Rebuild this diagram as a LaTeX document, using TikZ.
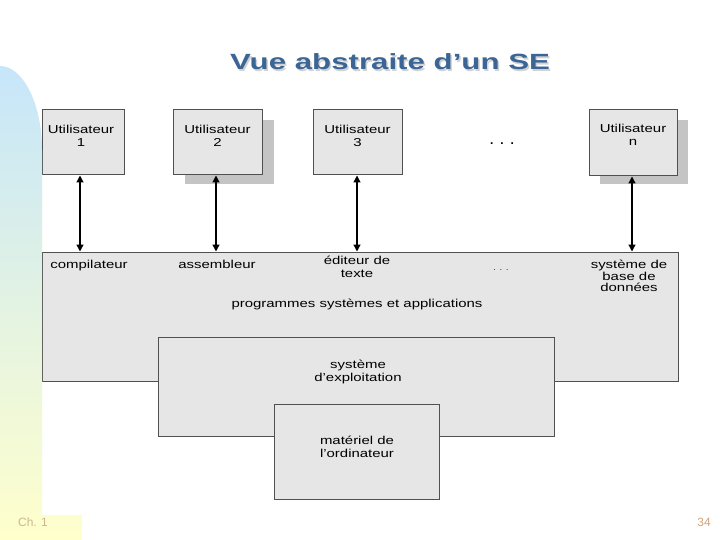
\documentclass[tikz,border=0pt]{standalone}
\usepackage{fontspec}
\setmainfont{Liberation Sans}
\newfontfamily\diag[FakeStretch=1.3]{Liberation Sans}
\newfontfamily\ttlfont[FakeStretch=1.42]{Liberation Sans}
\usetikzlibrary{arrows.meta}
\definecolor{boxfill}{HTML}{E6E6E6}
\definecolor{boxline}{HTML}{505050}
\definecolor{shadowc}{HTML}{C4C4C4}
\definecolor{titleblue}{HTML}{3B6595}
\definecolor{barTop}{HTML}{C6E6FA}
\definecolor{barMid}{HTML}{E2F4EA}
\definecolor{barBot}{HTML}{FFFFCC}
\definecolor{footc}{HTML}{CDB68E}
\definecolor{numc}{HTML}{D2A47C}
\tikzset{
  dtext/.style={font=\diag\fontsize{11.5}{12.5}\selectfont, align=center, inner sep=0pt, text=black},
  stext/.style={dtext, text height=8.5pt, text depth=2.5pt},
  gbox/.style={draw=boxline, fill=boxfill, line width=1pt, inner sep=0pt},
  shbox/.style={fill=shadowc, draw=none, inner sep=0pt},
  dbl/.style={{Triangle[length=7pt,width=7pt]}-{Triangle[length=7pt,width=7pt]}, line width=1.3pt, black},
}
\begin{document}
\begin{tikzpicture}[x=1pt,y=-1pt]
\useasboundingbox (0,0) rectangle (720,540);
\fill[white] (0,0) rectangle (720,540);

% title
\node[font=\ttlfont\bfseries\fontsize{22}{26}\selectfont, text=gray!35] (titleshadow) at (391.5,63.5) {Vue abstraite d’un SE};
\node[font=\ttlfont\bfseries\fontsize{22}{26}\selectfont, text=titleblue] (title) at (390,62) {Vue abstraite d’un SE};

% shadows of user boxes
\node[shbox, minimum width=89pt, minimum height=64pt] (u2s) at (229.5,152) {};
\node[shbox, minimum width=88pt, minimum height=64pt] (uns) at (644,152) {};

% user boxes
\node[gbox, minimum width=82pt, minimum height=65pt] (u1) at (83,142.5) {};
\node[gbox, minimum width=89pt, minimum height=65pt] (u2) at (217.5,142.5) {};
\node[gbox, minimum width=89pt, minimum height=65pt] (u3) at (357.5,142.5) {};
\node[gbox, minimum width=88pt, minimum height=66pt] (un) at (633,143) {};

\node[dtext, anchor=north] (l1) at (81,125) {Utilisateur\\1};
\node[dtext, anchor=north] (l2) at (217.5,125) {Utilisateur\\2};
\node[dtext, anchor=north] (l3) at (357.5,125) {Utilisateur\\3};
\node[dtext, anchor=north] (ln) at (633,124) {Utilisateur\\n};
\node[font=\bfseries\fontsize{12}{12}\selectfont, inner sep=0pt, anchor=base] (dots1) at (502,145) {.\hspace{7pt}.\hspace{7pt}.};

% big boxes
\node[gbox, minimum width=636pt, minimum height=129pt] (prog) at (360,316.5) {};
\node[gbox, minimum width=396pt, minimum height=99pt] (os) at (356,386.5) {};
\node[gbox, minimum width=165pt, minimum height=95pt] (hw) at (356.5,451.5) {};

% labels in the boxes
\node[stext] (comp) at (89,265) {compilateur};
\node[stext] (asm) at (217,265) {assembleur};
\node[dtext, anchor=north] (edit) at (357,256) {éditeur de\\texte};
\node[font=\fontsize{8}{9}\selectfont, inner sep=0pt, anchor=base] (dots2) at (501,270) {.\hspace{4pt}.\hspace{4pt}.};
\node[dtext, anchor=north, font=\diag\fontsize{11.5}{11.5}\selectfont] (sgbd) at (629,260) {système de\\base de\\données};
\node[stext] (progl) at (357,304) {programmes systèmes et applications};
\node[dtext, anchor=north] (osl) at (358,360) {système\\d’exploitation};
\node[dtext, anchor=north] (hwl) at (357,436) {matériel de\\l’ordinateur};

% connectors
\draw[dbl] ([xshift=-3pt]u1.south) -- ([xshift=-3pt]u1.south |- prog.north);
\draw[dbl] ([xshift=-1.5pt]u2.south) -- ([xshift=-1.5pt]u2.south |- prog.north);
\draw[dbl] ([xshift=-0.5pt]u3.south) -- ([xshift=-0.5pt]u3.south |- prog.north);
\draw[dbl] ([xshift=-1pt]un.south) -- ([xshift=-1pt]un.south |- prog.north);

% left decorative bar
\shade[top color=barTop, middle color=barMid, bottom color=barBot]
  (0,66) .. controls (23,66) and (42,104) .. (42,150) -- (42,515) -- (82,515) -- (82,540) -- (0,540) -- cycle;

% footer
\node[font=\fontsize{12}{14}\selectfont, text=footc, inner sep=0pt] (ch) at (33,522) {Ch. 1};
\node[font=\fontsize{12}{14}\selectfont, text=numc, inner sep=0pt] (num) at (704,522) {34};
\end{tikzpicture}
\end{document}
